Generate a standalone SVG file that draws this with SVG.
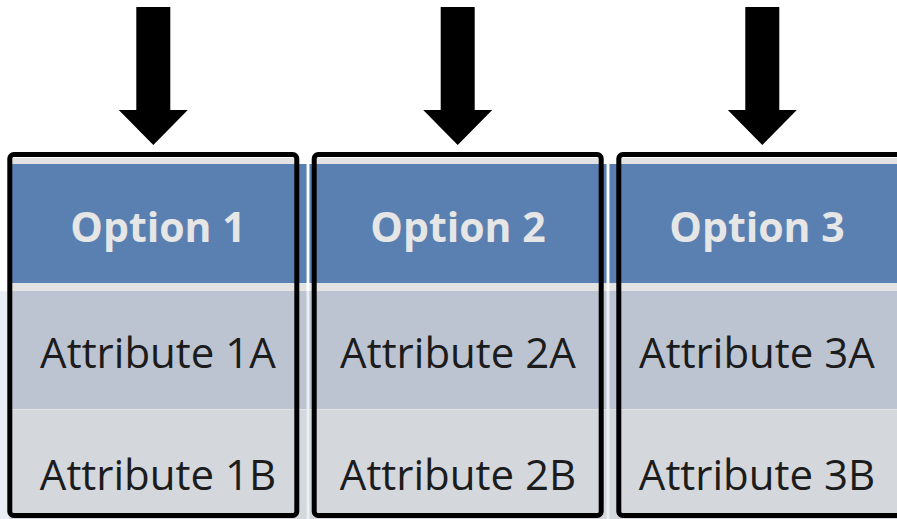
<svg xmlns="http://www.w3.org/2000/svg" width="897" height="519" viewBox="0 0 897 519">
<style>
.strip{fill:#e3e3e3}
.head{fill:#5a80b2}
.r2{fill:#bcc4d2}
.r3{fill:#d4d7dc}
.gap{fill:#e9edf4}
.ht{font-family:"Open Sans","Liberation Sans",sans-serif;font-weight:bold;font-size:41px;fill:#e6e6e6;text-anchor:middle}
.at{font-family:"Open Sans","Liberation Sans",sans-serif;font-size:42px;fill:#1c1c1c;text-anchor:middle}
.box{fill:none;stroke:#000;stroke-width:5}
.arrow{fill:#000}
</style>
<rect width="897" height="519" fill="#fff"/>
<g id="table">
  <rect class="gap" x="0" y="291" width="897" height="228"/>
  <rect class="strip" x="9.5" y="158" width="297" height="361"/>
  <rect class="strip" x="309.5" y="158" width="297" height="361"/>
  <rect class="strip" x="609.5" y="158" width="297" height="361"/>
  <rect fill="#fff" x="299" y="156" width="14" height="8"/>
  <rect fill="#fff" x="603" y="156" width="14" height="8"/>
</g>
<g id="option1">
  <rect class="head" x="9.5" y="164" width="297" height="119"/>
  <rect class="r2" x="9.5" y="291" width="297" height="118"/>
  <rect class="r3" x="9.5" y="410" width="297" height="109"/>
  <text class="ht" x="158" y="242">Option 1</text>
  <text class="at" x="158" y="368">Attribute 1A</text>
  <text class="at" x="158" y="490">Attribute 1B</text>
  <rect class="box" x="9.8" y="154.5" width="287" height="361" rx="4"/>
</g>
<g id="option2">
  <rect class="head" x="309.5" y="164" width="297" height="119"/>
  <rect class="r2" x="309.5" y="291" width="297" height="118"/>
  <rect class="r3" x="309.5" y="410" width="297" height="109"/>
  <text class="ht" x="458" y="242">Option 2</text>
  <text class="at" x="458" y="368">Attribute 2A</text>
  <text class="at" x="458" y="490">Attribute 2B</text>
  <rect class="box" x="314.2" y="154.5" width="287" height="361" rx="4"/>
</g>
<g id="option3">
  <rect class="head" x="609.5" y="164" width="297" height="119"/>
  <rect class="r2" x="609.5" y="291" width="297" height="118"/>
  <rect class="r3" x="609.5" y="410" width="297" height="109"/>
  <text class="ht" x="757" y="242">Option 3</text>
  <text class="at" x="757" y="368">Attribute 3A</text>
  <text class="at" x="757" y="490">Attribute 3B</text>
  <rect class="box" x="618.8" y="154.5" width="287" height="361" rx="4"/>
</g>
<g id="connectors">
  <polygon class="arrow" points="136.3,7 170.3,7 170.3,110 187.8,110 153.3,145 118.8,110 136.3,110"/>
  <polygon class="arrow" points="440.7,7 474.7,7 474.7,110 492.2,110 457.7,145 423.2,110 440.7,110"/>
  <polygon class="arrow" points="745.3,7 779.3,7 779.3,110 796.8,110 762.3,145 727.8,110 745.3,110"/>
</g>
</svg>
